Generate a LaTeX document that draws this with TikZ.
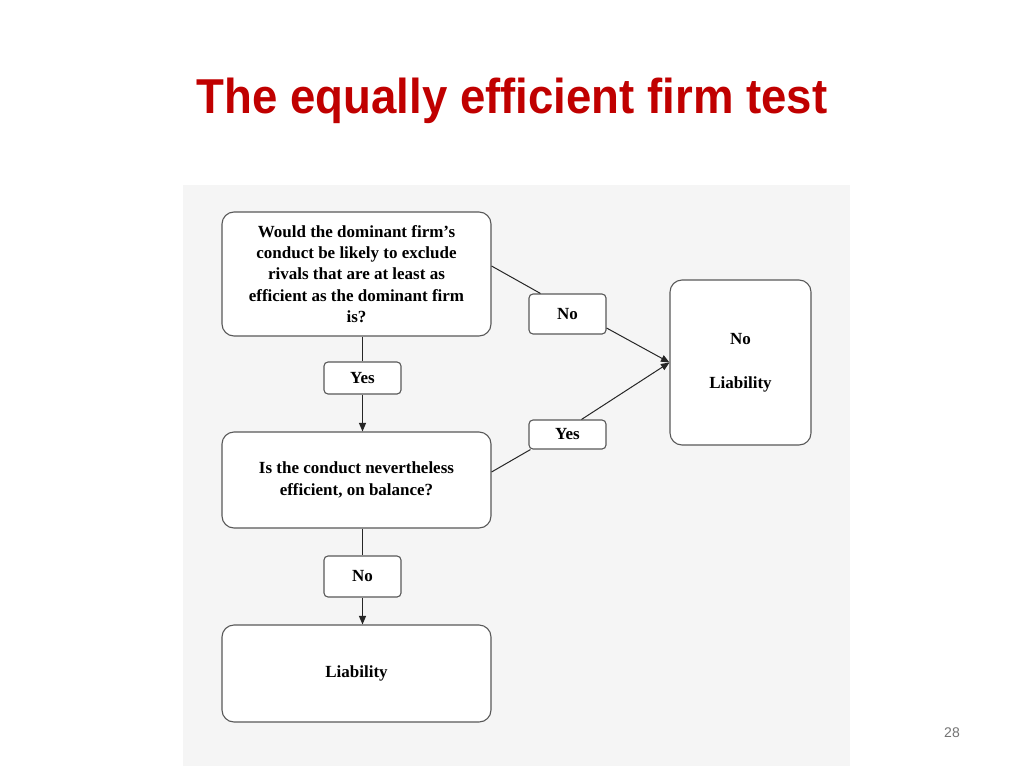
\documentclass[tikz,border=0pt]{standalone}
\usepackage{fontspec}
\setmainfont{Liberation Serif}
\newfontfamily\titlefont[FakeStretch=0.93]{Liberation Sans}
\newfontfamily\numfont{Liberation Sans}
\usetikzlibrary{calc}
\usetikzlibrary{arrows.meta}
\definecolor{titlered}{HTML}{C00000}

\tikzset{
  question/.style={draw=black!65, line width=1.1pt, fill=white, rounded corners=12pt,
    align=center, inner sep=0pt, font=\fontsize{17}{21.3}\selectfont\bfseries},
  answer/.style={draw=black!65, line width=1.1pt, fill=white, rounded corners=4pt,
    align=center, inner sep=0pt, minimum width=77pt, font=\fontsize{17}{21}\selectfont\bfseries},
  link/.style={black!85, line width=1pt},
  tip/.style={-{Triangle[length=8.5pt,width=7pt]}},
}

\begin{document}
\begin{tikzpicture}[x=1pt, y=-1pt]
\useasboundingbox (0,0) rectangle (1024,768);
\fill[gray!8] (183,185) rectangle (850,766);
\node[font=\titlefont\fontsize{49}{55}\selectfont\bfseries, text=titlered] (title) at (512,101) {The equally efficient firm test};
\node[font=\numfont\fontsize{14}{16}\selectfont, text=black!55] (page) at (952,733) {28};

% boxes
\node[question, minimum width=269pt, minimum height=124pt] (dominant) at (356.5,274)
  {Would the dominant firm’s\\conduct be likely to exclude\\rivals that are at least as\\efficient as the dominant firm\\is?};
\node[question, minimum width=269pt, minimum height=96pt] (efficient) at (356.5,480)
  {Is the conduct nevertheless\\efficient, on balance?};
\node[question, minimum width=269pt, minimum height=97pt] (liab) at (356.5,673.5) {Liability};
\node[question, minimum width=141pt, minimum height=165pt] (noliab) at (740.5,362.5) {No\\[23pt]Liability};

\node[answer, minimum height=40pt] (noA) at (567.5,314) {No};
\node[answer, minimum height=32pt] (yesA) at (362.5,378) {Yes};
\node[answer, minimum height=29pt] (yesB) at (567.5,434.5) {Yes};
\node[answer, minimum height=41pt] (noB) at (362.5,576.5) {No};

% connectors
\draw[link] ($(dominant.east)+(0,-8)$) -- ($(noA.north west)+(12,0)$);
\draw[link,tip] ($(noA.east)+(0,14)$) -- (noliab.west);
\draw[link] ($(efficient.east)+(0,-8)$) -- ($(yesB.south west)+(2,0)$);
\draw[link,tip] ($(yesB.north)+(14,0)$) -- (noliab.west);
\draw[link] (dominant.south -| yesA) -- (yesA.north);
\draw[link,tip] (yesA.south) -- (efficient.north -| yesA);
\draw[link] (efficient.south -| noB) -- (noB.north);
\draw[link,tip] (noB.south) -- (liab.north -| noB);
\end{tikzpicture}
\end{document}
